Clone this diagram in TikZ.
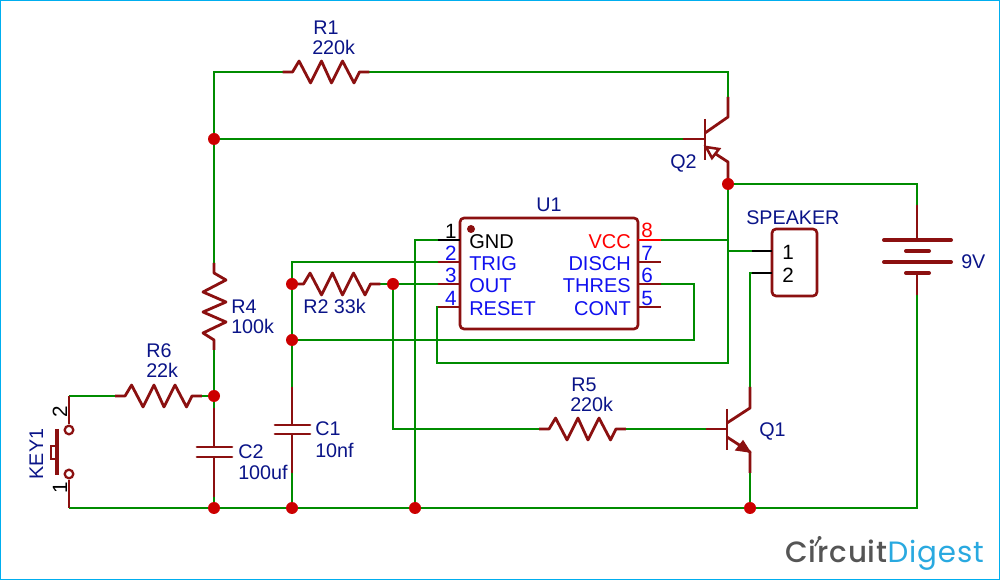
\documentclass[tikz,border=0pt]{standalone}
\usepackage{fontspec}
\setmainfont{Liberation Sans}
\newfontfamily\logofont[LetterSpace=3]{Poppins}
\newfontfamily\logofontb[LetterSpace=3]{Poppins Medium}
\definecolor{wirec}{HTML}{008C00}
\definecolor{symc}{HTML}{8B1010}
\definecolor{junc}{HTML}{CC0000}
\definecolor{lab}{HTML}{0A1488}
\definecolor{pinb}{HTML}{1010F0}
\definecolor{framec}{HTML}{00AEEF}
\definecolor{logob}{HTML}{29A9E0}
\definecolor{logog}{HTML}{555555}
\tikzset{
 x=0.75pt,y=-0.75pt,
 wire/.style={draw=wirec,line width=2.1pt},
 sym/.style={draw=symc,line width=2.1pt,line join=round},
 pinblk/.style={draw=black,line width=2.1pt},
 plate/.style={draw=symc,line width=2pt,line cap=round},
 batt/.style={draw=symc,line width=3pt,line cap=round},
 dotj/.style={circle,fill=junc,draw=none,minimum size=9pt,inner sep=0pt},
 lbl/.style={text=lab,font=\fontsize{14.8}{14}\selectfont,inner sep=0pt,anchor=base west},
 lblc/.style={lbl,anchor=base},
 pn/.style={font=\fontsize{15}{15}\selectfont,inner sep=0pt},
 dg/.style={font=\fontsize{15.5}{15}\selectfont,inner sep=0pt},
}
\newcommand{\reshoriz}[1]{% zigzag through centre #1, horizontal
 \draw[sym] ([xshift=-32.6pt]#1) -- ([xshift=-25.1pt]#1) -- ([xshift=-20.2pt,yshift=8.2pt]#1) -- ([xshift=-11.6pt,yshift=-8.2pt]#1) -- ([xshift=-3.4pt,yshift=8.2pt]#1) -- ([xshift=4.1pt,yshift=-8.2pt]#1) -- ([xshift=12.4pt,yshift=8.2pt]#1) -- ([xshift=21pt,yshift=-8.2pt]#1) -- ([xshift=25.1pt]#1) -- ([xshift=32.6pt]#1);}
\begin{document}
\begin{tikzpicture}
\useasboundingbox (0,0) rectangle (1000,580);
\fill[white] (0,0) rectangle (1000,580);
\draw[framec,line width=1pt] (0.7,0.7) rectangle (999.3,579.3);

% named points
\coordinate (tl) at (214,72);
\coordinate (j1) at (214,139);
\coordinate (r4t) at (214,263);
\coordinate (r4b) at (214,350);
\coordinate (j2) at (214,396);
\coordinate (j3) at (214,508);
\coordinate (j4) at (292,508);
\coordinate (j5) at (415,508);
\coordinate (j6) at (750,508);
\coordinate (j7) at (292,284);
\coordinate (j8) at (292,340);
\coordinate (j9) at (393,284);
\coordinate (j10) at (728,184);
\coordinate (r1) at (326,72);
\coordinate (r2) at (337,284);
\coordinate (r5) at (582.5,429);
\coordinate (r6) at (158.5,396);
\coordinate (sw2) at (69,396);
\coordinate (sw1) at (69,508);
\coordinate (p1) at (438,240);
\coordinate (p2) at (438,262);
\coordinate (p3) at (438,284);
\coordinate (p4) at (438,307);
\coordinate (p8) at (661,240);
\coordinate (p7) at (661,262);
\coordinate (p6) at (661,284);
\coordinate (p5) at (661,307);
\coordinate (sp1) at (752,251);
\coordinate (sp2) at (752,273);
\coordinate (q2b) at (683,139);
\coordinate (q2c) at (728,97);
\coordinate (q2e) at (728,180);
\coordinate (q1b) at (706,429);
\coordinate (q1c) at (750,387);
\coordinate (q1e) at (750,473);
\coordinate (bt) at (917,205);
\coordinate (bb) at (917,295);

% wires
\begin{scope}[wire]
\draw (r4t) -- (tl) -- ([xshift=-32.6pt]r1);
\draw ([xshift=32.6pt]r1) -| (q2c);
\draw (j1) -- (q2b);
\draw (r4b) -- (j2) -- (214,408);
\draw (214,497) -- (j3);
\draw (sw1) -- (j3) -- (j4) -- (j5) -- (j6) -- (917,508) -- (bb);
\draw (sw2) -- ([xshift=-32.6pt]r6);
\draw ([xshift=32.6pt]r6) -- (j2);
\draw (j10) -- (917,184) -- (bt);
\draw (q2e) -- (728,363) -- (437,363) -- (437,307) -- (p4);
\draw (p8) -- (728,240);
\draw (728,251) -- (sp1);
\draw (p6) -- (694,284) -- (694,340) -- (j8);
\draw (j4) -- (292,473);
\draw (292,387) -- (j8) -- (j7) -- (292,262) -- (p2);
\draw (j7) -- ([xshift=-32.6pt]r2);
\draw ([xshift=32.6pt]r2) -- (j9) -- (p3);
\draw (j9) -- (393,429) -- ([xshift=-32.6pt]r5);
\draw ([xshift=32.6pt]r5) -- (q1b);
\draw (j5) -- (415,240) -- (p1);
\draw (q1c) -- (750,273) -- (sp2);
\draw (q1e) -- (j6);
\end{scope}

% resistors
\reshoriz{r1}
\reshoriz{r2}
\reshoriz{r5}
\reshoriz{r6}
\draw[sym] (r4t) -- (214,273) -- (226,280) -- (203,292) -- (226,302) -- (203,312) -- (226,322) -- (203,333) -- (214,340) -- (r4b);

% capacitors
\draw[sym] (214,408) -- (214,447);
\draw[sym] (214,457) -- (214,497);
\draw[plate] (197,447) -- (232,447);
\draw[plate] (197,457) -- (232,457);
\draw[sym] (292,387) -- (292,425);
\draw[sym] (292,434) -- (292,473);
\draw[plate] (275,425) -- (310,425);
\draw[plate] (275,434) -- (310,434);

% switch
\draw[sym] (sw2) -- (69,424);
\draw[sym] (sw1) -- (69,480);
\draw[symc,line width=1.7pt,fill=white] (69,430) circle (4.3);
\draw[symc,line width=1.7pt,fill=white] (69,474) circle (4.3);
\draw[draw=symc,line width=3pt] (57,429) -- (57,475);
\draw[symc,line width=1.3pt,fill=white] (51,446) rectangle (56,459);

% IC
\draw[symc,line width=2pt,rounded corners=3pt,fill=white] (460,218) rectangle (638,329);
\fill[symc] (471,229) circle (4);
\draw[pinblk] (p1) -- (460,240);
\draw[sym] (p2) -- (460,262);
\draw[sym] (p3) -- (460,284);
\draw[sym] (p4) -- (460,307);
\draw[draw=red,line width=2.1pt] (638,240) -- (p8);
\draw[sym] (638,262) -- (p7);
\draw[sym] (638,284) -- (p6);
\draw[sym] (638,307) -- (p5);

% speaker
\draw[symc,line width=2pt,rounded corners=3pt,fill=white] (772,229) rectangle (817,296);
\draw[pinblk] (sp1) -- (772,251);
\draw[pinblk] (sp2) -- (772,273);

% battery
\draw[sym] (bt) -- (917,240);
\draw[sym] (917,273) -- (bb);
\draw[batt] (884,240) -- (951,240);
\draw[batt] (906,251) -- (929,251);
\draw[batt] (884,262) -- (951,262);
\draw[batt] (906,273) -- (929,273);

% Q2
\draw[sym] (q2b) -- (705,139);
\draw[sym] (705,119) -- (705,160);
\draw[sym] (705,133) -- (728,117) -- (q2c);
\draw[sym] (705,147) -- (728,162) -- (q2e);
\draw[symc,line width=1.9pt,fill=white,line join=miter] (706,147) -- (719,149) -- (712,158) -- cycle;
% Q1
\draw[sym] (q1b) -- (727,429);
\draw[sym] (727,409) -- (727,450);
\draw[sym] (727,423) -- (750,408) -- (q1c);
\draw[sym] (727,437) -- (750,452) -- (q1e);
\filldraw[symc,line width=1pt] (750,452) -- (736,450) -- (743,441) -- cycle;

% junctions
\foreach \j in {j1,j2,j3,j4,j5,j6,j7,j8,j9,j10} \node[dotj] at (\j) {};

% labels
\node[lbl] (lr1) at (313,35) {R1};
\node[lbl] (lr1v) at (312,55) {220k};
\node[lbl] (lu1) at (536,212) {U1};
\node[lbl] (lq2) at (670,169) {Q2};
\node[lbl] (lsp) at (746,225) {SPEAKER};
\node[lbl] (l9v) at (961,269) {9V};
\node[lbl] (lr4) at (231,314) {R4};
\node[lbl] (lr4v) at (231,334) {100k};
\node[lbl] (lr6) at (146,358) {R6};
\node[lbl] (lr6v) at (146,378) {22k};
\node[lbl] (lr2) at (303,314) {R2 33k};
\node[lbl] (lr5) at (571,392) {R5};
\node[lbl] (lr5v) at (570,412) {220k};
\node[lbl] (lq1) at (759,437) {Q1};
\node[lbl] (lc1) at (315,436) {C1};
\node[lbl] (lc1v) at (315,458) {10nf};
\node[lbl] (lc2) at (238,459) {C2};
\node[lbl] (lc2v) at (238,480) {100uf};
\node[lblc,rotate=90] (lkey) at (43,454) {KEY1};
\node[dg,rotate=90,anchor=base] (k2) at (67,412) {2};
\node[dg,rotate=90,anchor=base] (k1) at (67,488) {1};

% IC text
\begin{scope}[every node/.style={pn,anchor=base west}]
\node[text=black] (tg) at (469,249) {GND};
\node[text=pinb] (tt) at (469,271) {TRIG};
\node[text=pinb] (to) at (469,293) {OUT};
\node[text=pinb] (tr) at (469,316) {RESET};
\end{scope}
\begin{scope}[every node/.style={pn,anchor=base east}]
\node[text=red] (tv) at (631,249) {VCC};
\node[text=pinb] (td) at (631,271) {DISCH};
\node[text=pinb] (th) at (631,293) {THRES};
\node[text=pinb] (tc) at (631,316) {CONT};
\end{scope}
\begin{scope}[every node/.style={dg,anchor=base east}]
\node[text=black] (n1) at (457,239) {1};
\node[text=pinb] (n2) at (457,261) {2};
\node[text=pinb] (n3) at (457,283) {3};
\node[text=pinb] (n4) at (457,306) {4};
\end{scope}
\begin{scope}[every node/.style={dg,anchor=base west}]
\node[text=red] (n8) at (641,238) {8};
\node[text=pinb] (n7) at (641,261) {7};
\node[text=pinb] (n6) at (641,283) {6};
\node[text=pinb] (n5) at (641,306) {5};
\node[text=black] (s1) at (782,260) {1};
\node[text=black] (s2) at (782,283) {2};
\end{scope}

% logo
\node[inner sep=0pt,anchor=base west,font=\fontsize{22}{20}\selectfont] (logo) at (785,563) {\textcolor{logog}{\logofontb Circuit}\textcolor{logob}{\logofont Digest}};
\draw[logog,line width=1.2pt] (815,546) -- (819,539);
\fill[logog] (819.5,538) circle (2);
\end{tikzpicture}
\end{document}
